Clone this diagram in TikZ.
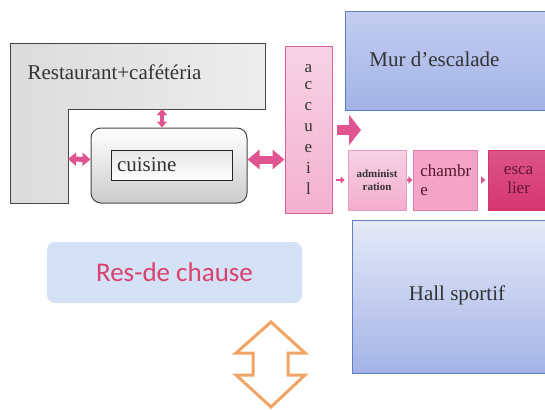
\documentclass[tikz,border=0pt]{standalone}
\usepackage{fontspec}
\setmainfont{Liberation Serif}
\newfontfamily\calibri{Carlito}
\usetikzlibrary{arrows.meta,positioning,calc}
\definecolor{rosefleche}{HTML}{E0558F}
\definecolor{roseclair}{HTML}{F7D2E4}
\definecolor{rosebord}{HTML}{D4609B}
\definecolor{rosemoyen}{HTML}{F3A4C7}
\definecolor{rosefonce}{HTML}{D63670}
\definecolor{bleubord}{HTML}{5F80C6}
\definecolor{bleuhaut}{HTML}{C3CDF0}
\definecolor{bleubas}{HTML}{A3B3E6}
\definecolor{bleupale}{HTML}{E6EAF8}
\definecolor{bleuniveau}{HTML}{D5E1F4}
\definecolor{rougetexte}{HTML}{D9416F}
\definecolor{orangefleche}{HTML}{F2A366}
\definecolor{texte}{HTML}{333333}

\begin{document}
\begin{tikzpicture}[x=1pt,y=-1pt,
  grand/.style={font=\fontsize{21}{24}\selectfont,text=texte},
  salle/.style={draw=bleubord,line width=1pt,top color=bleuhaut,bottom color=bleubas},
  piece/.style={draw=#1,line width=0.8pt,minimum height=60pt,inner sep=1pt,align=left},
  grosse/.style={rosefleche,line width=#1},
  petite/.style={rosefleche,line width=2.5pt,-{Triangle[length=4pt,width=7pt]},shorten <=3pt,shorten >=3pt}
]
\useasboundingbox (0,0) rectangle (545,409);

% restaurant (L shape) and kitchen
\draw[draw=gray!55!black,line width=0.9pt,left color=gray!28,right color=gray!14]
  (10,43) -- (265,43) -- (265,109) -- (68,109) -- (68,203) -- (10,203) -- cycle;
\coordinate (restB) at (162,109);
\coordinate (restR) at (68,159);
\node[grand,anchor=west] (restlbl) at (24,72) {Restaurant+cafétéria};

\node[draw=gray!55!black,line width=1pt,rounded corners=10pt,top color=white,bottom color=gray!40,
  minimum width=156pt,minimum height=75pt] (cuis) at (169,165.5) {};
\node[grand,draw=gray!30!black,line width=1pt,top color=gray!20,bottom color=white,
  minimum height=30pt,text width=109pt,inner xsep=6pt,align=left] (cuisin) at (171.5,165) {cuisine};

% reception column
\node[draw=rosebord,line width=1pt,top color=roseclair,bottom color=rosemoyen!70!roseclair,
  minimum width=47pt,minimum height=166pt,align=center,text=texte,
  font=\fontsize{17}{21}\selectfont] (acc) at (308.5,130) {\raisebox{-4pt}{a}\\c\\c\\u\\e\\i\\l};

% climbing wall and sports hall
\node[salle,minimum width=214pt,minimum height=98pt] (mur) at (452,61) {};
\node[grand] (murlbl) at (434.5,59) {Mur d’escalade};
\node[salle,top color=bleupale,minimum width=210pt,minimum height=153pt,grand] (hall) at (457,296.5) {\raisebox{6pt}{Hall sportif}};

% row of small rooms
\node[piece=rosebord!60,top color=roseclair,bottom color=rosemoyen!80!roseclair,minimum width=58pt,
  font=\fontsize{11}{13}\bfseries\selectfont,text=texte,align=center] (adm) at (377,180) {administ\\ration};
\node[piece=rosebord!80,fill=rosemoyen,minimum width=64pt,right=7pt of adm,text=rosefonce!40!black,
  font=\fontsize{17}{19}\selectfont] (cham) {chambr\\e};
\node[piece=rosefonce,top color=rosefonce!85!white,bottom color=rosefonce,minimum width=60pt,
  right=10pt of cham,text=rosefonce!45!black,font=\fontsize{17}{19}\selectfont,align=center] (esc) {esca\\lier};

% links
\draw[grosse=4pt,{Triangle[length=6pt,width=10pt]}-{Triangle[length=6pt,width=10pt]}] (restB) -- (restB |- cuis.north);
\draw[grosse=5pt,{Triangle[length=8pt,width=13pt]}-{Triangle[length=8pt,width=13pt]}] (restR) -- ([yshift=6pt]cuis.west);
\draw[grosse=8pt,{Triangle[length=12pt,width=19pt]}-{Triangle[length=12pt,width=19pt]}] ([yshift=6pt]cuis.east) -- ([yshift=6pt]cuis.east -| acc.west);
\coordinate (murpt) at (361,130);
\draw[grosse=10pt,-{Triangle[length=12pt,width=30pt]}] ([xshift=4pt]acc.east) -- (murpt);
\draw[petite] (adm.west -| acc.east) -- (adm.west);
\draw[petite,shorten <=1pt,shorten >=1pt] (adm.east) -- (cham.west);
\draw[petite] (cham.east) -- (esc.west);

% ground floor
\node[fill=bleuniveau,rounded corners=8pt,minimum width=255pt,minimum height=61pt,
  font=\calibri\fontsize{27}{30}\selectfont,text=rougetexte] (rdc) at (174.5,272.5) {Res-de chause};

% stairs between levels
\draw[orangefleche,line width=3pt,fill=white,line join=miter]
  (271,322) -- (305,353) -- (288,353) -- (288,375) -- (305,375) -- (271,407)
  -- (236,375) -- (253,375) -- (253,353) -- (236,353) -- cycle;
\end{tikzpicture}
\end{document}
